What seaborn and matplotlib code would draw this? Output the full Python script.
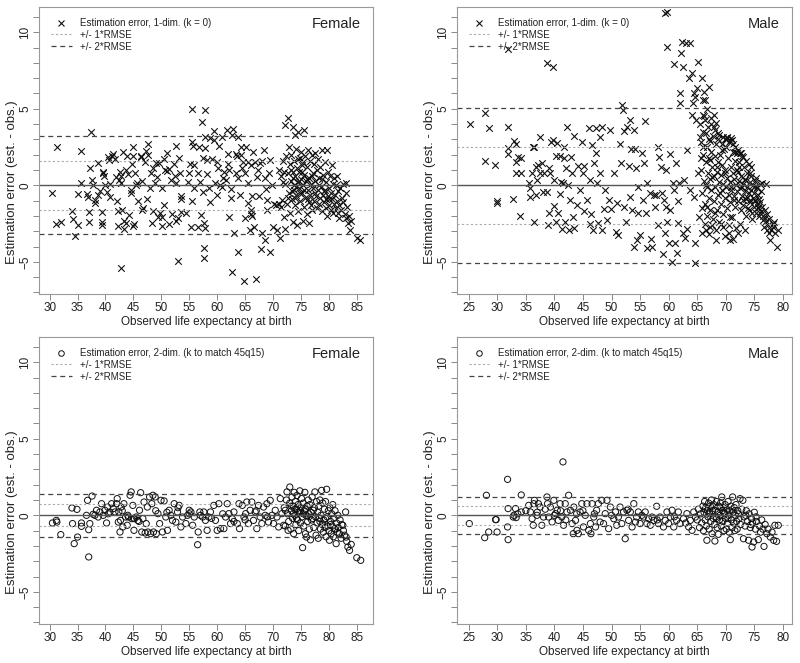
import matplotlib
matplotlib.use("Agg")
import matplotlib.pyplot as plt
from matplotlib.lines import Line2D
from matplotlib.ticker import FixedLocator
import seaborn as sns
import pandas as pd

# (observed e0, estimation error)
female_1d = [
    (30.5, -0.52), (31.3, 2.53), (31.2, -2.55), (32.0, -2.37), (34.0, -1.68), (34.1, -2.2), (34.6, -3.3),
    (35.0, -0.57), (35.0, -2.6), (35.7, 2.27), (35.7, 0.13), (36.7, -0.57), (36.9, -0.74), (37.1, -1.76),
    (37.1, -2.4), (37.2, 1.11), (37.4, 3.49), (37.6, 0.35), (37.7, 0.0), (38.1, -0.96), (38.2, -1.18),
    (38.6, 1.44), (38.7, -0.65), (39.0, -0.35), (39.3, -1.74), (39.3, -2.37), (39.3, -2.57), (39.5, 0.87),
    (39.6, 0.78), (39.8, 0.63), (40.0, 0.0), (40.2, -0.41), (40.4, 1.87), (40.6, 1.66), (40.8, 0.07),
    (40.8, -0.78), (41.1, 1.92), (41.4, 2.05), (41.7, 1.7), (41.8, 0.57), (42.1, -1.0), (42.3, -1.66),
    (42.3, -2.66), (42.4, 0.35), (42.6, 0.85), (42.7, 0.63), (42.7, -5.38), (42.8, 0.17), (42.9, -1.61),
    (43.1, 2.16), (43.3, -2.35), (43.4, -2.83), (43.6, 1.0), (43.7, -2.48), (43.9, 1.92), (44.0, 0.74),
    (44.3, -1.94), (44.5, -0.3), (44.6, -0.52), (44.8, 1.37), (44.9, 2.48), (44.9, 1.92), (45.0, -2.66),
    (45.1, -2.53), (45.2, 0.78), (45.4, 0.04), (45.7, 0.17), (45.8, -1.02), (46.3, 1.92), (46.4, 1.87),
    (46.5, 0.28), (46.6, -1.61), (46.7, -1.5), (47.0, 1.55), (47.3, 2.27), (47.4, -0.92), (47.6, 2.7),
    (47.7, 1.96), (48.0, -0.17), (48.2, 0.78), (48.3, -2.48), (48.5, -1.66), (48.6, 1.11), (48.9, 0.17),
    (49.1, 1.48), (49.2, 0.57), (49.4, -2.05), (49.5, 1.48), (49.8, -1.83), (50.1, -0.2), (50.2, -2.05),
    (50.2, -2.66), (50.4, 1.7), (50.5, -1.29), (50.7, 1.0), (51.0, 0.96), (51.1, 2.14), (51.3, 1.05),
    (51.4, -2.53), (51.7, 0.35), (52.0, -1.9), (52.2, 1.37), (52.4, 0.61), (52.6, 2.57), (52.6, 0.17),
    (52.7, -2.31), (52.9, -4.95), (52.9, -2.16), (53.2, 1.76), (53.4, 0.78), (53.5, -0.7), (53.5, -0.87),
    (53.6, -1.74), (54.4, -1.83), (54.8, 0.24), (55.0, 0.83), (55.2, 1.39), (55.3, -2.75), (55.5, -1.05),
    (55.5, 5.01), (55.5, 2.85), (55.6, 2.59), (55.8, 1.31), (55.8, -0.2), (56.5, 0.78), (56.6, -2.7),
    (56.8, 2.53), (56.9, 0.24), (57.1, -1.96), (57.3, 4.14), (57.4, -0.41), (57.5, 1.81), (57.6, -4.1),
    (57.6, -4.75), (57.7, -2.44), (57.8, 3.18), (57.8, 4.92), (57.8, 2.42), (57.9, -2.77), (58.1, 1.66),
    (58.2, 0.74), (58.5, -0.2), (58.7, -1.09), (58.8, 3.07), (59.1, 1.7), (59.4, 3.57), (59.5, 2.96),
    (59.7, 0.17), (59.9, -0.61), (60.0, 1.55), (60.1, 1.11), (60.3, 2.59), (60.5, 0.02), (60.9, 3.18),
    (61.3, 0.85), (61.6, 0.35), (61.8, 3.62), (61.9, 2.05), (62.1, -2.05), (62.2, 1.0), (62.4, -0.26),
    (62.5, -0.83), (62.7, 3.29), (62.7, -5.64), (62.9, 3.66), (63.0, -3.14), (63.3, 0.78), (63.4, 2.05),
    (63.7, 3.18), (63.8, -4.34), (64.0, -0.63), (64.3, 2.53), (64.5, 1.11), (64.8, -6.23), (65.0, -2.14),
    (65.2, 2.53), (65.5, 0.17), (65.6, -1.18), (65.8, -2.92), (66.1, -1.87), (66.3, -0.68), (66.5, 2.2),
    (66.6, -2.7), (67.0, -6.14), (67.2, 0.57), (67.6, 1.48), (67.8, -4.18), (68.0, -3.14), (68.3, 2.31),
    (68.6, -3.57), (68.8, -0.26), (68.9, -1.61), (69.0, -0.96), (69.4, -4.34), (69.5, 1.66), (69.8, 0.02),
    (70.0, -2.75), (70.2, -1.22), (70.7, -2.92), (71.0, 1.0), (71.3, -3.46), (71.6, -0.96), (71.9, -2.05),
    (72.1, 3.92), (72.2, -2.88), (72.7, 4.38),
    (63.5, 1.9), (64.2, 2.0), (64.7, 1.5), (65.5, 1.5), (66.0, 1.3), (66.8, 1.5), (67.3, 1.0), (68.0, 1.6),
    (68.5, 0.5), (69.2, 0.8), (70.5, -1.3), (71.0, -1.2), (71.5, 0.6), (71.8, 0.2), (62.0, 1.4), (61.0, 0.5),
    (60.8, -0.1), (63.8, 0.5), (65.0, 0.8), (66.0, -1.6), (66.2, -2.0), (67.5, -0.7),
    (72.2, 0.1), (72.4, 1.9), (72.5, -1.2), (72.6, 0.8), (72.8, 2.5), (72.9, -0.5), (73.0, 1.4), (73.1, -1.8),
    (73.2, 0.3), (73.3, 2.0), (73.4, -0.9), (73.5, 3.8), (73.5, 0.9), (73.6, -2.4), (73.7, 0.0), (73.8, 1.6),
    (73.8, -0.3), (73.9, 3.3), (74.0, -1.3), (74.0, 0.6), (74.1, 2.4), (74.2, -0.6), (74.3, 1.1), (74.3, -2.6),
    (74.4, 0.2), (74.5, 3.5), (74.5, -1.7), (74.6, 0.9), (74.7, -0.2), (74.8, 1.8), (74.9, -1.0), (75.0, 0.4),
    (75.0, 2.2), (75.1, -0.5), (75.2, 1.3), (75.3, -2.3), (75.4, 0.0), (75.5, 3.6), (75.5, -1.4), (75.6, 0.7),
    (75.7, 1.9), (75.8, -0.8), (75.9, 0.3), (76.0, -1.9), (76.1, 1.2), (76.2, -0.3), (76.3, 2.3), (76.4, 0.5),
    (76.5, -1.1), (76.5, -2.48), (76.6, 1.6), (76.7, -0.6), (76.8, 0.1), (76.9, 2.0), (77.0, -1.6), (77.1, 0.8),
    (77.2, -0.2), (77.3, 1.4), (77.4, -1.0), (77.5, 0.3), (77.6, 2.1), (77.7, -0.7), (77.8, 1.0), (77.9, -1.5),
    (78.0, -0.3), (78.1, 1.7), (78.2, -1.2), (78.3, 0.5), (78.4, -0.8), (78.5, 1.2), (78.6, -0.1), (78.7, 2.3),
    (78.8, -1.7), (78.9, -0.6), (79.0, 0.7), (79.1, -1.1), (79.2, -0.4), (79.3, 1.5), (79.4, -0.9), (79.5, 0.2),
    (79.6, -2.0), (79.7, 2.3), (79.8, -0.7), (79.9, 0.9), (80.0, -1.3), (80.1, -0.2), (80.2, 0.6), (80.3, -1.6),
    (80.4, -0.5), (80.5, 1.3), (80.6, -0.9), (80.7, -1.83), (80.8, 0.1), (80.9, -1.2), (81.0, 0.5), (81.1, -0.6),
    (81.2, -1.5), (81.3, 0.0), (81.4, -1.0), (81.5, 0.6), (81.6, -1.8), (81.7, -0.4), (81.8, -1.3), (81.9, -2.16),
    (82.0, -0.2), (82.2, -1.6), (82.3, -0.8), (82.5, -1.1), (82.6, 0.1), (82.8, -1.9), (83.0, -0.5), (83.1, -2.16),
    (83.1, 0.17), (83.3, -1.4), (83.4, -2.48), (83.6, -2.0), (83.7, -2.92), (84.0, -2.3), (85.0, -3.46), (85.6, -3.57),
    (73.2, 1.0), (73.6, 0.5), (74.1, -0.1), (74.6, 0.3), (75.1, 0.9), (75.6, -0.3), (76.1, 0.4), (73.9, -0.8),
    (74.8, -0.5), (75.3, 1.5), (76.8, -1.3), (77.6, -0.5), (78.8, 0.4), (79.3, -0.3), (80.1, -0.9), (79.5, -1.5),
    (78.2, 0.0), (77.0, 0.6), (76.3, -0.9), (74.4, 1.7), (73.4, -0.4), (72.6, -0.8), (72.0, 0.9), (71.8, 1.6),
    (71.5, -1.4),
]

male_1d = [
    (25.2, 4.0), (27.9, 4.7), (27.9, 1.61), (28.5, 3.72), (29.6, 1.33), (30.0, -1.05), (30.0, -1.18),
    (31.8, 3.83), (31.8, 2.42), (31.9, 2.05), (31.9, 8.9), (32.8, -0.92), (32.9, 2.88), (33.2, 2.7),
    (33.2, 1.55), (33.3, 0.78), (33.7, 1.87), (33.9, -2.0), (34.2, 1.76), (34.2, 0.83), (35.5, 0.13),
    (35.7, -0.2), (35.8, -0.74), (36.1, 0.78), (36.3, 2.48), (36.4, -2.37), (36.5, 2.48), (36.7, 1.22),
    (36.7, -0.65), (36.95, 0.35), (37.2, 1.33), (37.4, 0.78), (37.5, 3.18), (37.8, 1.44), (38.0, -0.41),
    (38.1, 0.78), (38.7, 7.97), (38.7, -0.41), (38.8, -2.57), (39.0, 1.11), (39.1, -1.79), (39.3, 0.83),
    (39.4, 2.85), (39.8, 7.76), (39.8, 2.96), (39.9, -1.35), (40.0, 0.35), (40.2, 1.92), (40.3, -2.37),
    (40.5, 2.75), (40.7, -1.79), (40.9, -0.57), (41.0, 1.92), (41.2, 0.24), (41.3, -2.88), (41.5, 0.13),
    (41.6, 1.79), (41.7, 2.53), (41.9, -2.37), (42.1, 1.11), (42.2, 3.79), (42.3, 0.02), (42.5, -2.92),
    (42.7, -0.96), (42.9, 1.87), (43.1, 0.78), (43.3, -2.05), (43.4, 3.22), (43.5, -2.81), (44.0, -1.29),
    (44.2, 1.26), (44.4, -0.3), (44.8, 2.85), (45.0, 0.78), (45.1, -1.7), (45.2, 1.26), (45.7, -0.96),
    (46.0, 3.72), (46.2, -2.53), (46.3, 0.35), (46.4, -1.9), (46.6, 2.64), (46.7, -2.92), (46.9, 1.44),
    (47.2, 3.72), (47.3, 2.09), (47.4, 0.13), (47.7, -2.44), (47.9, 3.18), (48.0, 0.78), (48.3, 3.83),
    (48.3, -2.92), (48.6, -1.57), (48.9, -0.3), (49.2, -2.27), (49.5, -0.96), (49.8, 3.62), (49.9, -1.57),
    (50.4, 0.83), (50.8, -3.03), (50.9, -1.13), (51.2, -3.25), (51.5, 2.7), (51.6, 1.44), (51.8, 5.23),
    (52.0, 4.92), (52.1, -1.44), (52.2, 3.57), (52.5, -2.37), (52.7, 3.83), (53.0, 1.26), (53.2, -0.74),
    (53.3, 4.27), (53.4, 2.35), (53.6, -1.61), (53.9, 3.62), (54.0, -4.01), (54.2, 2.35), (54.3, 1.11),
    (54.4, -3.57), (54.6, -1.83), (54.7, -0.13), (55.0, -3.22), (55.3, 2.09), (55.5, -0.96), (55.7, 1.48),
    (55.9, 4.23), (56.1, -1.83), (56.2, -4.1), (56.3, 0.13), (56.8, -0.52), (56.9, -3.49), (57.1, -4.01),
    (57.4, -0.63), (57.7, -1.39), (57.8, -0.63), (58.1, -2.57), (58.2, 2.53), (58.4, 1.87), (58.6, 1.22),
    (58.8, -0.52), (59.0, -4.49), (59.2, -0.96), (59.3, -3.14), (59.4, 11.24), (59.5, -1.39), (59.6, 1.0),
    (59.7, -2.37), (59.7, 11.35), (59.8, 9.06), (60.0, -3.75), (60.2, -1.61), (60.3, 2.05), (60.6, -4.99),
    (60.7, 0.17), (60.9, -0.3), (61.0, 7.93), (61.2, -3.79), (61.3, 1.44), (61.4, -4.44), (61.6, -1.0),
    (61.7, -2.44), (61.9, 0.13), (62.0, 5.4), (62.0, 6.0), (62.1, 8.67), (62.3, 9.39), (62.5, 7.76),
    (62.6, -3.14), (62.7, 0.35), (62.9, -3.46), (63.1, 9.28), (63.2, 2.31), (63.3, -2.88), (63.5, 6.99),
    (63.7, 9.32), (63.8, -0.3), (64.1, 7.36), (64.1, 4.6), (64.2, 5.36), (64.4, -0.74), (64.5, 6.01),
    (64.6, -3.79), (64.65, -5.1), (64.7, 5.8), (64.8, 4.27), (64.9, 6.34), (65.1, 8.06), (65.2, 0.78),
    (65.3, -2.05), (65.5, 3.18), (65.6, 1.76), (65.8, 6.99), (65.8, -3.14), (66.0, 4.6), (66.1, 2.53),
    (66.2, 6.12), (66.4, 5.58), (66.6, 3.4), (66.7, -0.09), (66.8, -1.39), (67.0, 6.45), (67.2, 1.66),
    (67.3, -2.7), (67.6, 0.57), (67.9, 3.83), (68.0, 4.6), (68.1, -1.83), (68.3, -3.57), (68.4, 1.22),
    (68.7, 3.4), (69.0, -0.52), (69.3, 2.31), (69.5, 3.18), (69.6, -2.7), (69.9, 0.78), (70.2, 3.18),
    (70.5, -3.14), (70.7, -3.57), (70.8, -2.05), (70.9, -0.09), (71.1, 2.96), (71.4, -0.96), (71.6, 2.53),
    (71.9, 1.0), (72.2, -3.14), (72.5, 2.09), (72.8, -0.09), (73.0, 1.87), (73.1, -0.96), (73.4, 0.35),
    (73.7, -0.74), (74.0, -1.61), (74.2, 0.78), (74.3, -0.96), (74.6, -1.83), (74.9, -0.09), (75.1, -0.96),
    (75.4, -0.09), (75.7, -1.39), (76.0, -1.83), (76.3, 0.13), (76.5, -2.27), (76.7, -2.7), (76.9, -2.16),
    (77.2, -2.92), (77.5, -3.14), (77.8, -3.57), (78.2, -2.7), (78.5, -2.37), (78.9, -4.01), (79.2, -2.92),
    (65.5, 4.0), (65.6, 2.8), (65.7, 1.0), (65.8, -0.5), (65.9, -1.5), (66.0, 3.5), (66.1, 2.0), (66.2, 0.3),
    (66.3, -1.2), (66.3, -2.5), (66.4, 4.3), (66.5, 1.5), (66.6, 0.0), (66.7, -2.0), (66.8, 2.5), (66.9, 0.8),
    (67.0, -0.8), (67.0, 3.0), (67.1, 1.8), (67.2, -1.6), (67.3, 0.4), (67.4, 2.2), (67.5, -0.3), (67.6, 1.2),
    (67.7, -2.2), (67.8, 3.2), (67.9, 0.6), (68.0, -1.0), (68.1, 1.9), (68.2, -0.1), (68.3, 2.7), (68.4, -1.6),
    (68.5, 0.9), (68.6, -0.6), (68.7, 1.5), (68.8, -2.4), (68.9, 0.2), (69.0, 2.0), (69.1, -1.2), (69.2, 0.7),
    (69.3, -0.3), (69.4, 1.3), (69.5, -1.9), (69.6, 0.1), (69.7, 2.4), (69.8, -0.8), (69.9, 1.0), (70.0, -0.1),
    (70.1, 3.0), (70.2, -1.5), (70.3, 0.5), (70.4, 1.8), (70.5, -0.6), (70.6, 2.8), (70.7, 0.2), (70.8, -1.1),
    (70.9, 1.2), (71.0, -0.3), (71.1, -2.1), (71.2, 0.8), (71.3, 2.2), (71.4, -0.7), (71.5, 0.4), (71.6, 1.6),
    (71.7, -1.4), (71.8, 0.0), (71.9, 2.1), (72.0, -0.4), (72.1, 0.9), (72.2, -1.0), (72.3, 0.3), (72.4, 1.5),
    (72.5, -0.2), (72.6, -1.6), (72.7, 0.6), (72.8, 1.9), (72.9, -0.7), (73.0, 0.1), (73.1, -1.3), (73.2, 1.2),
    (73.3, -0.4), (73.4, 0.4), (73.5, -2.0), (73.6, -0.9), (73.7, 0.8), (73.8, -0.1), (73.9, -1.5), (74.0, 1.4),
    (74.1, -0.5), (74.2, 0.2), (74.3, -1.1), (74.4, -0.3), (74.5, 0.6), (74.6, -2.2), (74.7, -0.8), (74.8, 0.0),
    (74.9, -1.4), (75.0, -0.5), (75.1, 0.3), (75.2, -1.0), (75.3, -1.8), (75.4, -0.2), (75.5, -1.2), (75.6, -0.6),
    (75.7, -1.5), (75.8, -0.9), (75.9, -2.0), (76.0, -1.1), (76.1, -1.7), (76.2, -0.4), (76.4, -1.4), (76.6, -2.0),
    (76.8, -1.6), (77.0, -2.3), (77.0, 0.1), (77.2, -1.9), (77.4, -2.6), (77.6, -2.2), (78.0, -2.9), (78.3, -2.5),
    (78.6, -3.1),
    (66.2, 4.5), (66.9, 3.8), (67.4, 4.0), (68.2, 3.6), (68.8, 3.3), (69.8, 3.0), (70.3, 3.1), (70.8, 2.9),
    (71.3, 2.7), (72.1, 2.3), (72.7, 2.1),
    (66.5, -2.9), (67.0, -3.2), (67.6, -2.6), (68.3, -2.9), (69.2, -2.5), (69.9, -3.3), (70.6, -2.6),
    (71.3, -3.5), (71.8, -2.8), (72.5, -2.5), (73.3, -2.9), (67.2, 2.9), (68.6, 3.0), (69.4, 2.7), (70.0, 2.5),
    (71.0, 3.1), (71.7, 2.2), (72.3, 1.2), (73.6, 1.6), (74.5, 1.2), (75.3, 0.5), (76.0, 0.1), (66.7, 5.0),
    (67.5, 4.4), (68.3, 4.1), (66.0, 5.6),
]

female_2d = [
    (30.5, -0.5), (31.2, -0.33), (31.3, -0.44), (32.0, -1.26), (34.0, 0.48), (34.1, -0.54), (34.4, -1.85),
    (34.9, 0.39), (35.0, -1.42), (35.7, -0.5), (35.7, -0.72), (36.6, 0.0), (36.8, 0.98), (37.0, -2.72),
    (37.0, -0.94), (37.2, -0.54), (37.6, 1.26), (37.8, 0.07), (38.1, 0.0), (38.4, 0.33), (38.7, -0.11),
    (39.0, 0.22), (39.3, 0.76), (39.6, 0.0), (39.9, 0.33), (40.2, -0.5), (40.4, 0.54), (40.8, 0.22),
    (41.1, 0.76), (41.4, 0.44), (41.7, 0.22), (42.0, 0.76), (42.1, 1.09), (42.3, -0.44), (42.4, 0.22),
    (42.6, -1.09), (42.7, -0.33), (42.8, 0.54), (43.1, -0.76), (43.3, 0.76), (43.6, -0.11), (43.9, -0.65),
    (44.1, -0.11), (44.4, 1.31), (44.6, 1.53), (44.7, -0.22), (44.9, 0.65), (45.1, -0.98), (45.2, -0.22),
    (45.5, -0.11), (45.8, -0.33), (46.1, 0.33), (46.3, 1.48), (46.5, -1.09), (46.7, -0.22), (46.9, 0.87),
    (47.1, -1.15), (47.3, -0.54), (47.5, 0.54), (47.6, -1.09), (47.9, 1.2), (48.1, -1.2), (48.3, 0.76),
    (48.5, 1.31), (48.6, -1.09), (48.9, 1.2), (49.1, -1.2), (49.4, 0.11), (49.7, -0.54), (49.95, 0.98),
    (50.2, -1.09), (50.5, 0.94), (50.8, -0.11), (51.1, -0.98), (51.4, 0.33), (51.7, 0.0), (52.0, -0.33),
    (52.3, 0.76), (52.6, -0.44), (52.9, 0.22), (53.2, 0.65), (53.5, -0.76), (53.8, -0.11), (54.4, -0.54),
    (54.7, 0.0), (55.0, 0.33), (55.3, 0.22), (55.6, -0.65), (55.9, -0.11), (56.5, -1.92), (56.6, -1.09),
    (56.9, 0.22), (57.4, -0.11), (57.6, 0.22), (57.9, -0.33), (58.2, -0.98), (58.5, -0.11), (58.8, 0.22),
    (59.4, 0.65), (59.7, -0.33), (60.0, -0.98), (60.3, 0.76), (60.6, -0.87), (61.2, -0.87), (61.5, -0.11),
    (61.8, 0.76), (62.1, 0.11), (62.4, -0.54), (62.7, -0.22), (63.0, 0.22), (63.6, -0.54), (63.9, 0.76),
    (64.0, -0.87), (64.5, 0.65), (64.8, -0.11), (65.1, 0.11), (65.3, 0.87), (65.6, -0.54), (65.9, 0.33),
    (66.2, 0.87), (66.5, -0.33), (66.8, 0.22), (67.1, -0.87), (67.4, 0.65), (67.7, -0.11), (68.0, -0.54),
    (68.3, 0.54), (68.6, 0.0), (68.9, 0.76), (69.2, -0.44), (69.5, 0.98), (69.8, 0.0), (70.1, -0.54),
    (70.4, 0.33), (70.7, -0.11), (71.0, -0.76), (71.3, 1.09), (71.6, 0.11), (71.9, -0.65), (72.2, 0.33),
    (72.5, 1.53), (72.7, -0.98), (73.0, 1.85),
    (40.5, 0.1), (43.0, 0.3), (44.0, 0.0), (45.0, -0.2), (46.0, -0.4), (49.0, 0.3), (51.0, 0.2), (53.0, 0.5),
    (55.0, 0.1), (57.0, 0.0), (59.0, -0.2), (61.0, 0.1), (63.0, -0.4), (65.0, -0.3), (67.0, 0.3), (69.0, -0.1),
    (72.0, 0.5), (72.2, -0.7), (72.4, 1.0), (72.6, 0.1), (72.8, -0.4), (73.0, 0.8), (73.2, -0.9), (73.3, 0.3),
    (73.4, 1.2), (73.5, -0.2), (73.6, 0.6), (73.7, -1.2), (73.8, 1.5), (73.9, 0.0), (74.0, 0.9), (74.1, -0.6),
    (74.2, 0.4), (74.3, 1.3), (74.4, -0.3), (74.5, 0.7), (74.6, -1.0), (74.7, 0.2), (74.8, 1.6), (74.9, -0.5),
    (75.0, 0.5), (75.1, 1.1), (75.2, -0.1), (75.3, -2.11), (75.4, 0.8), (75.5, -0.7), (75.6, 0.3), (75.7, 1.5),
    (75.8, -1.2), (75.9, 0.0), (76.0, -1.42), (76.1, 0.6), (76.2, -0.4), (76.3, 1.0), (76.4, 0.1), (76.5, -0.9),
    (76.6, 0.7), (76.7, -1.6), (76.8, 0.2), (76.9, -0.3), (77.0, 1.2), (77.2, 0.33), (77.3, -0.8), (77.4, 0.5),
    (77.5, 1.53), (77.6, -0.1), (77.7, -1.3), (77.8, 0.9), (77.9, -0.5), (78.0, 0.2), (78.1, -1.5), (78.2, 0.6),
    (78.3, -0.2), (78.4, 1.0), (78.5, -0.9), (78.6, 0.0), (78.7, 1.63), (78.8, -0.6), (78.9, 0.8), (79.0, -1.1),
    (79.1, -0.3), (79.2, 0.4), (79.3, -0.8), (79.4, 0.9), (79.5, -1.4), (79.6, 1.7), (79.7, -0.1), (79.8, -0.7),
    (79.9, 0.3), (80.0, -1.0), (80.1, -1.63), (80.2, 0.5), (80.3, -0.4), (80.4, -1.2), (80.5, 0.1), (80.6, -0.7),
    (80.7, 0.7), (80.8, -1.4), (80.9, -0.2), (81.0, -0.9), (81.1, 0.3), (81.3, -1.85), (81.4, -0.5), (81.5, -1.1),
    (81.6, 0.0), (81.7, -0.8), (81.9, -1.2), (82.0, -0.3), (82.2, -1.5), (82.3, -0.6), (82.5, -0.65), (82.6, -1.0),
    (82.8, -1.3), (83.0, 0.22), (83.1, -1.42), (83.2, -1.7), (83.4, -2.07), (83.7, -2.29), (84.0, -1.9),
    (85.0, -2.77), (85.7, -2.94),
    (73.3, 0.6), (73.9, 0.4), (74.4, 0.2), (74.9, 0.3), (75.4, 0.1), (74.2, -0.2), (73.6, 0.1), (75.8, 0.4),
    (76.4, -0.1), (77.1, -0.2), (78.4, -0.4), (79.4, -0.2), (80.3, -0.6), (81.2, -0.9),
]

male_2d = [
    (25.1, -0.54), (27.8, -1.46), (28.1, 1.31), (28.5, -1.09), (29.7, -0.28), (29.96, -1.09), (29.8, -0.28),
    (31.8, 2.35), (31.8, -0.76), (31.9, 0.44), (31.9, -1.59), (32.8, -0.11), (32.9, 0.0), (33.2, 0.44),
    (33.3, -0.15), (34.2, 1.33), (34.2, 0.22), (35.5, 0.65), (35.8, 0.22), (36.1, -0.22), (36.3, -0.65),
    (36.4, 0.76), (36.5, 0.98), (36.95, 0.0), (37.2, 0.76), (37.5, 0.54), (37.8, -0.65), (38.1, -0.11),
    (38.7, 1.2), (38.8, 0.76), (39.0, -0.11), (39.3, 0.54), (39.6, -0.44), (39.9, 0.98), (40.2, 0.11),
    (40.5, 0.33), (40.7, -0.33), (41.0, 0.76), (41.3, -0.11), (41.5, 3.49), (41.6, -0.65), (41.9, 0.76),
    (42.2, 0.22), (42.5, 1.31), (42.8, 0.33), (43.1, -0.54), (43.3, -1.2), (43.4, 0.54), (43.7, -0.33),
    (43.95, -0.98), (44.2, -1.2), (44.5, 0.22), (44.8, 0.76), (45.1, -0.76), (45.4, 0.0), (45.7, 0.76),
    (46.0, -0.98), (46.3, -0.54), (46.4, -1.2), (46.6, 0.76), (46.9, -0.11), (47.2, -0.76), (47.4, 0.33),
    (47.7, 0.76), (48.0, -0.44), (48.3, 0.98), (48.6, -0.54), (48.9, 0.11), (49.2, 0.98), (49.5, -0.87),
    (49.8, 0.54), (50.4, -0.22), (50.7, 0.22), (50.9, -0.65), (51.2, -0.11), (51.5, 0.54), (51.8, -0.54),
    (52.1, 0.22), (52.4, -1.53), (52.7, 0.33), (53.0, -0.33), (53.3, 0.22), (53.6, -0.76), (53.9, 0.76),
    (54.2, -0.44), (54.4, -0.11), (54.7, 0.22), (55.0, -0.54), (55.6, -0.11), (55.9, 0.22), (56.2, -0.54),
    (56.5, -0.22), (56.8, -0.65), (57.1, -0.11), (57.4, -0.33), (57.9, 0.59), (58.2, -0.54), (58.5, -0.11),
    (59.1, -0.76), (59.4, -0.33), (59.7, 0.22), (60.0, -0.54), (60.3, -0.11), (60.6, 0.33), (60.9, -0.76),
    (61.4, -0.33), (61.7, 0.22), (62.0, -0.54), (62.6, -0.22), (63.2, 0.11), (63.5, -0.76), (63.8, -0.33),
    (64.1, -0.98), (64.4, 0.22), (64.7, -0.11),
    (33.6, 0.1), (35.0, 0.3), (37.0, 0.2), (38.4, 0.4), (40.0, 0.0), (41.1, 0.3), (42.0, -0.3), (43.9, 0.1),
    (45.0, 0.3), (47.0, 0.1), (50.0, 0.0), (52.9, 0.4), (55.3, 0.0), (58.0, -0.3), (61.0, -0.1), (63.0, -0.5),
    (65.0, -0.3), (65.2, 0.4), (65.4, -0.8), (65.6, 0.1), (65.8, -0.5), (66.0, 0.6), (66.1, -1.0), (66.2, 0.2),
    (66.3, 0.9), (66.4, -0.3), (66.5, 0.5), (66.6, -0.7), (66.7, -1.63), (66.8, 0.3), (66.9, -0.1), (67.0, 0.8),
    (67.1, -0.9), (67.2, 0.1), (67.3, 0.6), (67.4, -0.4), (67.5, 1.0), (67.6, -1.2), (67.7, 0.3), (67.8, -0.2),
    (67.9, 0.7), (68.0, -0.6), (68.1, -1.68), (68.2, 0.4), (68.3, -0.1), (68.4, 0.9), (68.5, -0.8), (68.6, 0.2),
    (68.7, -1.24), (68.8, 0.6), (68.9, -0.3), (69.0, 0.0), (69.1, 0.8), (69.2, -0.7), (69.3, 1.2), (69.4, 0.3),
    (69.5, -0.4), (69.6, 0.5), (69.7, -1.0), (69.8, 0.1), (69.9, 0.7), (70.0, -0.2), (70.1, -0.9), (70.2, 0.4),
    (70.3, -0.5), (70.4, 0.9), (70.5, 0.0), (70.6, -1.1), (70.7, 0.3), (70.8, -1.59), (70.9, 0.6), (71.0, -0.3),
    (71.1, -0.8), (71.2, 1.2), (71.3, 0.2), (71.4, -0.5), (71.5, 0.5), (71.6, -1.0), (71.7, 0.0), (71.8, 0.7),
    (71.9, -0.4), (72.0, -0.9), (72.1, 0.3), (72.3, -0.2), (72.5, 1.09), (72.6, -0.6), (72.8, 0.4), (73.0, 0.98),
    (73.1, -1.53), (73.2, -0.1), (73.4, -0.7), (73.6, 0.3), (73.8, -0.4), (74.0, -1.63), (74.1, 0.1), (74.3, -0.8),
    (74.5, -0.2), (74.6, -2.07), (74.7, -0.5), (74.9, -1.74), (75.0, 0.2), (75.2, -0.9), (75.4, -0.4), (75.7, -1.59),
    (75.9, -0.7), (76.1, -1.1), (76.3, -0.3), (76.5, -0.9), (76.7, -2.03), (76.9, -0.6), (77.2, -1.2), (77.4, -0.9),
    (77.8, -1.42), (78.1, -1.1), (78.4, -1.63), (78.6, -0.65), (78.9, -1.7), (79.2, -0.65),
    (66.4, 0.4), (67.1, 0.2), (67.7, 0.6), (68.4, -0.2), (69.0, 0.5), (69.7, 0.2), (70.4, -0.2), (71.1, 0.4),
    (72.2, 0.1), (73.5, 0.0), (74.4, -0.6), (75.3, -0.1),
]

# RMSE levels of each panel
rmse = {"f1": 1.6, "m1": 2.53, "f2": 0.71, "m2": 0.61}

legend_1d = "Estimation error, 1-dim. (k = 0)"
legend_2d = "Estimation error, 2-dim. (k to match 45q15)"
xlabel = "Observed life expectancy at birth"
ylabel = "Estimation error (est. - obs.)"

sns.set_style("white")
plt.rcParams["font.family"] = ["Liberation Sans", "DejaVu Sans"]

fig = plt.figure(figsize=(8, 6.63), dpi=100)

W, H = 800, 663
def place(x0, y0, x1, y1):
    return fig.add_axes([x0 / W, 1 - y1 / H, (x1 - x0) / W, (y1 - y0) / H])

panels = [
    (place(39, 7, 373, 294), female_1d, "f1", "Female", legend_1d, "x", (28.1, 87.9), range(30, 90, 5)),
    (place(457, 7, 792, 294), male_1d, "m1", "Male", legend_1d, "x", (22.95, 81.6), range(25, 85, 5)),
    (place(39, 337, 373, 624), female_2d, "f2", "Female", legend_2d, "o", (28.1, 87.9), range(30, 90, 5)),
    (place(457, 337, 792, 624), male_2d, "m2", "Male", legend_2d, "o", (22.95, 81.6), range(25, 85, 5)),
]

for ax, pts, key, sex, leg, mk, xlim, xt in panels:
    df = pd.DataFrame(pts, columns=["e0", "err"])
    if mk == "x":
        sns.scatterplot(data=df, x="e0", y="err", ax=ax, marker="x", s=22,
                        color="#111111", linewidth=0.8)
    else:
        sns.scatterplot(data=df, x="e0", y="err", ax=ax, marker="o", s=20,
                        facecolors="none", edgecolor="#111111", linewidth=0.7)
    r = rmse[key]
    ax.axhline(0, color="#555555", lw=1.0)
    for v in (r, -r):
        ax.axhline(v, color="#aaaaaa", lw=0.8, ls=(0, (2, 2)))
    for v in (2 * r, -2 * r):
        ax.axhline(v, color="#444444", lw=0.9, ls=(0, (4, 3)))

    ax.set_xlim(*xlim)
    ax.set_ylim(-7.1, 11.65)
    ax.set_xticks(list(xt))
    ax.yaxis.set_major_locator(FixedLocator([-5, 0, 5, 10]))
    ax.yaxis.set_minor_locator(FixedLocator([v for v in range(-7, 12) if v % 5 != 0]))
    ax.tick_params(axis="both", which="both", direction="out", length=4, width=0.7,
                   left=True, bottom=True, color="#888888", labelcolor="#222222",
                   labelsize=8.5, pad=2)
    ax.tick_params(axis="y", which="major", labelrotation=90, pad=1.5)
    for lab in ax.get_yticklabels():
        lab.set_va("center")
    for sp in ax.spines.values():
        sp.set_color("#999999")
        sp.set_linewidth(0.8)
    ax.set_xlabel(xlabel, fontsize=8.5, color="#222222", labelpad=1)
    ax.set_ylabel(ylabel, fontsize=9.5, color="#222222")
    ax.yaxis.set_label_coords(-0.064, 0.39)

    ax.text(0.962, 0.94, sex, transform=ax.transAxes, ha="right", va="center",
            fontsize=10.5, color="#222222")

    if mk == "x":
        h0 = Line2D([], [], ls="none", marker="x", ms=4, mew=0.8, color="#111111")
    else:
        h0 = Line2D([], [], ls="none", marker="o", ms=4, mfc="none", mew=0.7, color="#111111")
    h1 = Line2D([], [], color="#aaaaaa", lw=0.8, ls=(0, (2, 2)))
    h2 = Line2D([], [], color="#444444", lw=0.9, ls=(0, (4, 3)))
    ax.legend([h0, h1, h2], [leg, "+/- 1*RMSE", "+/- 2*RMSE"], loc="upper left",
              bbox_to_anchor=(0.035, 0.962), frameon=False, fontsize=7, handlelength=2.2,
              handletextpad=0.8, labelspacing=0.2, borderpad=0, borderaxespad=0,
              labelcolor="#222222")

fig.savefig("out.png", dpi=100)
